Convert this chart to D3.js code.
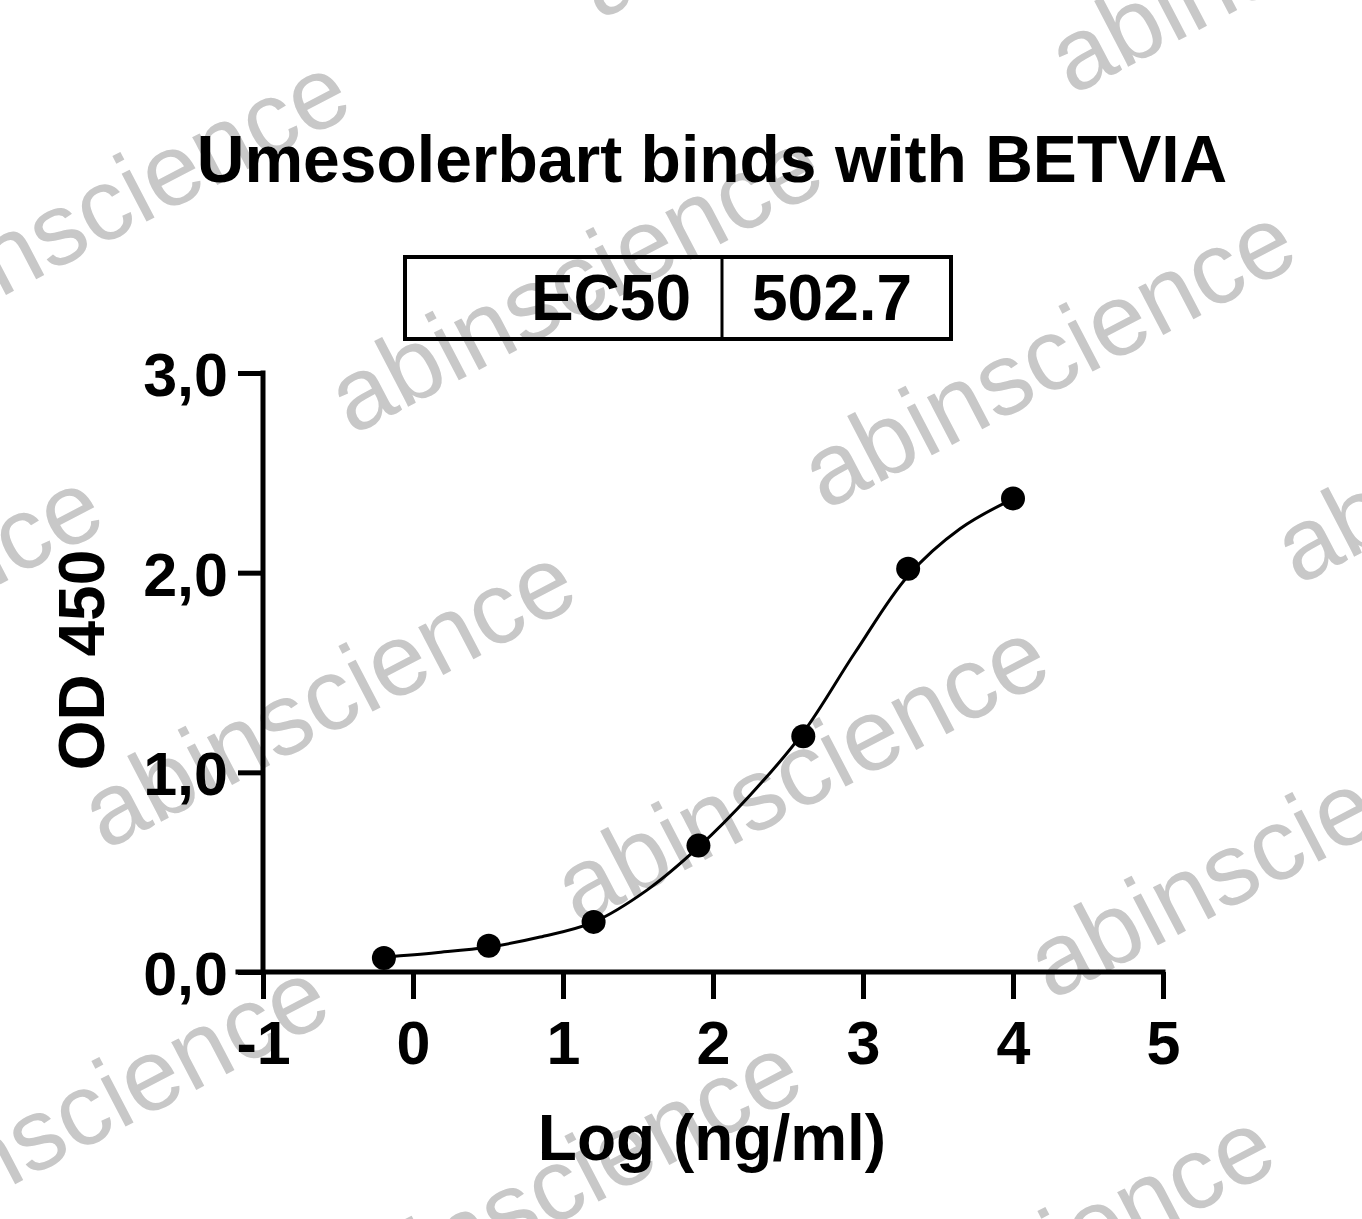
<!DOCTYPE html>
<html>
<head>
<meta charset="utf-8">
<script src="https://cdn.jsdelivr.net/npm/d3@7"></script>
<style>
  html, body { margin: 0; padding: 0; background: #fff; }
  svg { display: block; }
  text { font-family: "Liberation Sans", Arial, sans-serif; }
</style>
</head>
<body>
<svg id="chart" width="1362" height="1219"></svg>
<script>
// ---- data ----
const titleText = "Umesolerbart binds with BETVIA";
const xTitle = "Log (ng/ml)";
const yTitle = "OD 450";
const ec50Label = "EC50";
const ec50Value = "502.7";
const xTicks = [-1, 0, 1, 2, 3, 4, 5];
const yTicks = [0, 1, 2, 3];
const yTickLabels = ["0,0", "1,0", "2,0", "3,0"];
// measured points (log10 concentration, OD450)
const logConc = [-0.194, 0.505, 1.204, 1.903, 2.602, 3.301, 4.0];
const od450 = [0.070, 0.131, 0.251, 0.633, 1.181, 2.020, 2.372];
// fitted curve
const fitLogConc = [-0.194, 0.153, 0.505, 0.847, 1.204, 1.56, 1.903, 2.247, 2.602, 2.947, 3.301, 3.647, 4.0];
const fitOd = [0.075, 0.097, 0.125, 0.175, 0.250, 0.410, 0.625, 0.885, 1.200, 1.600, 1.985, 2.220, 2.370];
const watermarkText = "abinscience";

// ---- drawing ----
const svg = d3.select("#chart");
const W = 1362, H = 1219;

// watermark tiles
const wm = svg.append("g").attr("class", "watermark");
const base = [352, 436], A = [473, 75], B = [-247, 415];
for (let i = -3; i <= 3; i++) {
  for (let j = -2; j <= 3; j++) {
    const px = base[0] + i * A[0] + j * B[0];
    const py = base[1] + i * A[1] + j * B[1];
    if (px < -700 || px > W + 50 || py < -100 || py > H + 400) continue;
    wm.append("text")
      .attr("transform", `translate(${px},${py}) rotate(-27.5)`)
      .attr("font-size", 102)
      .attr("fill", "#c8c8c8")
      .text(watermarkText);
  }
}

const x = d3.scaleLinear().domain([-1, 5]).range([263, 1163]);
const y = d3.scaleLinear().domain([0, 3]).range([972, 373]);

// title
svg.append("text")
  .attr("x", 712).attr("y", 182)
  .attr("text-anchor", "middle")
  .attr("font-size", 66).attr("font-weight", "bold")
  .text(titleText);

// EC50 box
const box = svg.append("g");
box.append("rect").attr("x", 405).attr("y", 257).attr("width", 546).attr("height", 82)
  .attr("fill", "none").attr("stroke", "#000").attr("stroke-width", 4);
box.append("line").attr("x1", 722).attr("x2", 722).attr("y1", 257).attr("y2", 339)
  .attr("stroke", "#000").attr("stroke-width", 3);
box.append("text").attr("x", 691).attr("y", 320).attr("text-anchor", "end")
  .attr("font-size", 64).attr("font-weight", "bold").text(ec50Label);
box.append("text").attr("x", 752).attr("y", 320).attr("text-anchor", "start")
  .attr("font-size", 64).attr("font-weight", "bold").text(ec50Value);

// axes
const xAxis = d3.axisBottom(x).tickValues(xTicks).tickSize(27).tickPadding(22)
  .tickFormat(d => d3.format("d")(d).replace("−", "-"));
const yAxis = d3.axisLeft(y).tickValues(yTicks).tickSize(25).tickPadding(10)
  .tickFormat((d, i) => yTickLabels[i]);

const gx = svg.append("g").attr("transform", `translate(0,${y(0)})`).call(xAxis);
const gy = svg.append("g").attr("transform", `translate(${x(-1)},0)`).call(yAxis);

[gx, gy].forEach(g => {
  g.select(".domain").attr("stroke", "#000").attr("stroke-width", 5)
    .attr("stroke-linecap", "square");
  g.selectAll(".tick line").attr("stroke", "#000").attr("stroke-width", 5);
  g.selectAll(".tick text").attr("fill", "#000")
    .attr("font-family", "'Liberation Sans', Arial, sans-serif")
    .attr("font-size", 61).attr("font-weight", "bold");
});
gx.select(".domain").attr("d", `M${x(-1) - 25},0H${x(5)}`);
gy.select(".domain").attr("d", `M0,${y(3)}V${y(0)}`);
gx.selectAll(".tick text").attr("dy", "0.71em");
gy.selectAll(".tick text").attr("dy", "0.37em");

// axis titles
svg.append("text")
  .attr("x", 712).attr("y", 1160)
  .attr("text-anchor", "middle")
  .attr("font-size", 64).attr("font-weight", "bold")
  .text(xTitle);
svg.append("text")
  .attr("transform", `translate(104,660) rotate(-90)`)
  .attr("text-anchor", "middle")
  .attr("font-size", 64).attr("font-weight", "bold")
  .text(yTitle);

// fitted curve
const fitData = fitLogConc.map((v, i) => [v, fitOd[i]]);
svg.append("path")
  .datum(fitData)
  .attr("fill", "none").attr("stroke", "#000").attr("stroke-width", 3)
  .attr("d", d3.line().x(d => x(d[0])).y(d => y(d[1])).curve(d3.curveCatmullRom.alpha(0.5)));

// points
svg.append("g").selectAll("circle")
  .data(logConc.map((v, i) => [v, od450[i]]))
  .join("circle")
  .attr("cx", d => x(d[0])).attr("cy", d => y(d[1])).attr("r", 12)
  .attr("fill", "#000");
</script>
</body>
</html>
